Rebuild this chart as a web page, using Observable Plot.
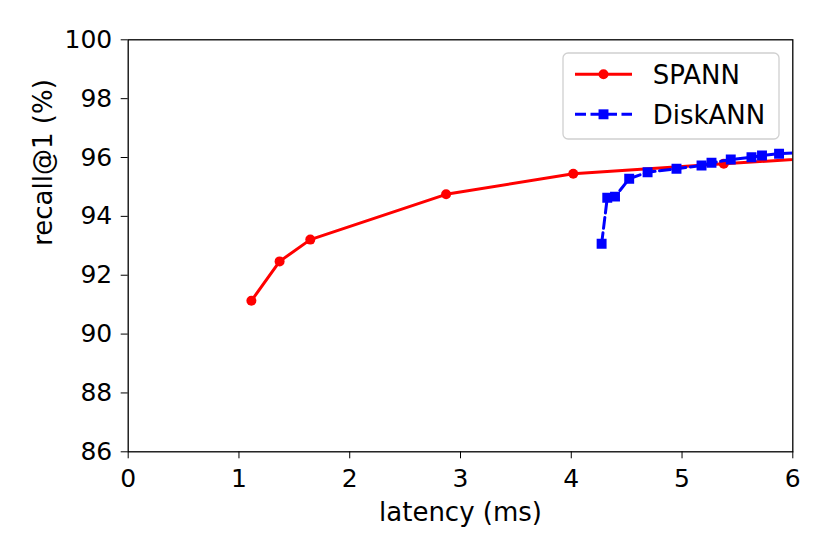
<!DOCTYPE html>
<html><head><meta charset="utf-8">
<script src="https://cdn.jsdelivr.net/npm/d3@7"></script>
<script src="https://cdn.jsdelivr.net/npm/@observablehq/plot@0.6"></script>
<style>body{margin:0;background:#fff} #chart{width:830px;height:554px} #chart svg, #chart svg text{font-family:'DejaVu Sans', sans-serif}</style>
</head><body><div id="chart"></div>
<script>
const spannLatency = [1.112, 1.367, 1.644, 2.870, 4.018, 5.377, 7.0];
const spannRecall  = [91.13, 92.47, 93.21, 94.75, 95.45, 95.79, 96.15];
const diskLatency  = [4.274, 4.325, 4.395, 4.523, 4.689, 4.950, 5.176, 5.266, 5.440, 5.627, 5.722, 5.876, 6.3];
const diskRecall   = [93.07, 94.63, 94.67, 95.28, 95.50, 95.62, 95.73, 95.82, 95.93, 96.01, 96.07, 96.13, 96.22];
const xTicks = [0, 1, 2, 3, 4, 5, 6];
const yTicks = [86, 88, 90, 92, 94, 96, 98, 100];
const seriesNames = ["SPANN", "DiskANN"];
const xLabel = "latency (ms)";
const yLabel = "recall@1 (%)";

const spann = spannLatency.map((x, i) => ({x, y: spannRecall[i]}));
const disk = diskLatency.map((x, i) => ({x, y: diskRecall[i]}));

const plot = Plot.plot({
  width: 830, height: 554,
  marginLeft: 127.7, marginRight: 37.7, marginTop: 39.3, marginBottom: 102.7,
  style: {fontFamily: "'DejaVu Sans', sans-serif", fontSize: "25px", color: "black", background: "white"},
  x: {domain: [0, 6]},
  y: {domain: [86, 100]},
  marks: [
    Plot.line(spann, {x: "x", y: "y", stroke: "#ff0000", strokeWidth: 3, clip: true}),
    Plot.dot(spann, {x: "x", y: "y", r: 5, fill: "#ff0000", clip: true}),
    Plot.line(disk, {x: "x", y: "y", stroke: "#0000ff", strokeWidth: 3, strokeDasharray: "11,4.5", clip: true}),
    Plot.dot(disk, {x: "x", y: "y", symbol: "square", r: 5.6, fill: "#0000ff", clip: true}),
    Plot.frame({stroke: "black", strokeWidth: 1.3}),
    Plot.axisX({ticks: xTicks, tickSize: 7, tickPadding: 10, label: null, fontSize: 25, tickFormat: d => String(d)}),
    Plot.axisY({ticks: yTicks, tickSize: 7, tickPadding: 9, label: null, fontSize: 25, tickFormat: d => String(d)}),
    Plot.text([xLabel], {text: d => d, frameAnchor: "bottom", dy: 69, fontSize: 26}),
    Plot.text([yLabel], {text: d => d, frameAnchor: "left", rotate: -90, dx: -85, fontSize: 26})
  ]
});
document.getElementById("chart").appendChild(plot);

// Legend
const svg = d3.select(plot.tagName.toLowerCase() === "svg" ? plot : plot.querySelector("svg"));
const lg = svg.append("g").attr("font-family", "'DejaVu Sans', sans-serif").attr("font-size", 26).attr("text-anchor", "start");
lg.append("rect").attr("x", 563).attr("y", 53).attr("width", 216).attr("height", 86)
  .attr("rx", 5).attr("fill", "white").attr("fill-opacity", 0.85).attr("stroke", "#d0d0d0").attr("stroke-width", 1.3);
const styles = [
  {color: "#ff0000", dash: null, sym: d3.symbolCircle, size: Math.PI * 25},
  {color: "#0000ff", dash: "11,4.5", sym: d3.symbolSquare, size: 5.6 * 5.6 * Math.PI}
];
seriesNames.forEach((name, i) => {
  const cy = 74.3 + i * 40;
  const s = styles[i];
  lg.append("line").attr("x1", 575).attr("x2", 632).attr("y1", cy).attr("y2", cy)
    .attr("stroke", s.color).attr("stroke-width", 3).attr("stroke-dasharray", s.dash);
  lg.append("path").attr("d", d3.symbol(s.sym, s.size)()).attr("transform", `translate(603.5,${cy})`).attr("fill", s.color);
  lg.append("text").attr("x", 652.7).attr("y", cy + 10).attr("text-anchor", "start").attr("fill", "black").text(name);
});
</script>
</body></html>
